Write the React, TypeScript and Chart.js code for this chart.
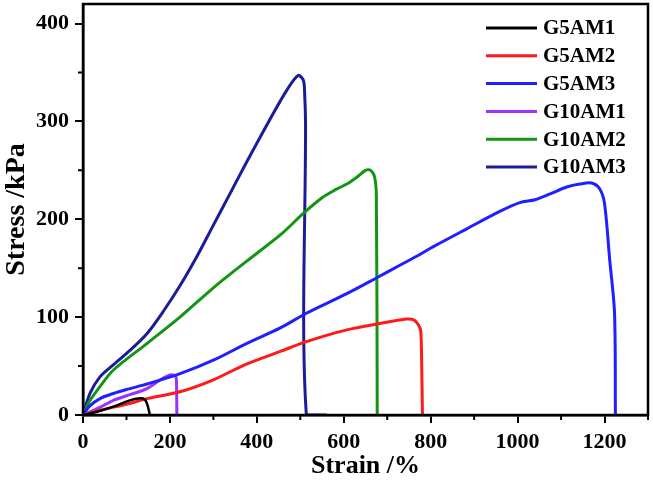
import { useEffect, useRef } from "react";
import { Chart, registerables } from "chart.js";

Chart.register(...registerables);

const seriesNames = ["G5AM1", "G5AM2", "G5AM3", "G10AM1", "G10AM2", "G10AM3"];
const seriesColors = ["#000000", "#ff1a1a", "#1f1fff", "#9b30ff", "#129612", "#1c1c9a"];

const g5am1Strain = [0, 30, 70, 108, 132, 140, 147, 154];
const g5am1Stress = [0, 3, 8.5, 15, 17, 16.5, 12, 0];

const g5am2Strain = [0, 40, 100, 150, 225, 300, 376, 454, 514, 607, 683, 744, 762, 772, 777, 779, 781];
const g5am2Stress = [0, 5, 11, 17, 24, 36, 52, 65, 75, 87, 93.5, 98, 97, 92, 86, 60, 0];

const g5am3Strain = [0, 15, 40, 70, 100, 150, 225, 300, 376, 454, 514, 607, 675, 729, 775, 806, 882, 959, 1005, 1040, 1075, 1113, 1143, 1170, 1189, 1200, 1212, 1223, 1225];
const g5am3Stress = [0, 9, 17, 22, 26, 32, 42.5, 56, 73, 89, 104, 124, 140, 153, 164, 172, 190, 208, 217, 220, 226, 233, 236, 237, 231, 216, 158, 104, 0];

const g10am1Strain = [0, 40, 70, 110, 147, 178, 200, 207, 213, 215, 216];
const g10am1Stress = [0, 8, 15, 21, 27, 36, 41, 41, 40, 35, 0];

const g10am2Strain = [0, 15, 39, 70, 147, 223, 300, 376, 454, 507, 550, 580, 607, 630, 650, 662, 671, 675, 677];
const g10am2Stress = [0, 14, 29, 46, 73, 100, 130, 157, 184, 206, 222, 230, 236, 243, 250, 250, 243, 224, 0];

const g10am3Strain = [0, 16, 39, 69, 108, 147, 185, 223, 262, 300, 338, 376, 430, 469, 495, 507, 510, 512, 514, 560];
const g10am3Stress = [0, 22, 39, 51, 66, 83, 106, 132, 162, 194, 226, 258, 302, 332, 347, 342, 328, 300, 0, 0];

const strainSeries = [g5am1Strain, g5am2Strain, g5am3Strain, g10am1Strain, g10am2Strain, g10am3Strain];
const stressSeries = [g5am1Stress, g5am2Stress, g5am3Stress, g10am1Stress, g10am2Stress, g10am3Stress];

const xMinorTicks = [100, 300, 500, 700, 900, 1100, 1300];
const yMinorTicks = [50, 150, 250, 350];

const FONT = '"Liberation Serif", "Times New Roman", serif';

const framePlugin = {
  id: "frame",
  afterDraw(chart: any) {
    const { ctx, chartArea: a, scales } = chart;
    ctx.save();
    ctx.strokeStyle = "#000";
    ctx.lineWidth = 2.5;
    ctx.strokeRect(a.left, a.top, a.right - a.left, a.bottom - a.top);
    ctx.lineWidth = 2;
    ctx.beginPath();
    for (const v of xMinorTicks) {
      const px = scales.x.getPixelForValue(v);
      ctx.moveTo(px, a.bottom);
      ctx.lineTo(px, a.bottom + 5);
    }
    for (const v of yMinorTicks) {
      const py = scales.y.getPixelForValue(v);
      ctx.moveTo(a.left - 5, py);
      ctx.lineTo(a.left, py);
    }
    ctx.stroke();

    // legend
    const x0 = a.right - 162;
    ctx.font = `bold 21px ${FONT}`;
    ctx.textBaseline = "middle";
    ctx.textAlign = "left";
    chart.data.datasets.forEach((ds: any, i: number) => {
      const y = a.top + 24 + i * 27.8;
      ctx.strokeStyle = ds.borderColor;
      ctx.lineWidth = 3;
      ctx.beginPath();
      ctx.moveTo(x0, y);
      ctx.lineTo(x0 + 51, y);
      ctx.stroke();
      ctx.fillStyle = "#000";
      ctx.fillText(ds.label, x0 + 57, y + 1);
    });
    ctx.restore();
  },
};

export default function App() {
  const ref = useRef<HTMLCanvasElement>(null);

  useEffect(() => {
    if (!ref.current) return;
    const datasets = seriesNames.map((name, i) => ({
      label: name,
      data: strainSeries[i].map((x, j) => ({ x, y: stressSeries[i][j] })),
      borderColor: seriesColors[i],
      backgroundColor: seriesColors[i],
      borderWidth: i === 0 ? 2.5 : 3,
      pointRadius: 0,
      tension: 0.3,
      fill: false,
      showLine: true,
    }));

    const chart = new Chart(ref.current, {
      type: "scatter",
      data: { datasets },
      plugins: [framePlugin],
      options: {
        animation: false,
        responsive: false,
        devicePixelRatio: 1,
        layout: { padding: { top: 4, right: 5, left: 0, bottom: 0 } },
        plugins: { legend: { display: false }, tooltip: { enabled: false } },
        scales: {
          x: {
            type: "linear",
            min: 0,
            max: 1300,
            bounds: "data",
            afterFit: (s: any) => {
              s.height = 67;
              s.paddingLeft = 0;
              s.paddingRight = 0;
            },
            ticks: {
              stepSize: 100,
              autoSkip: false,
              maxRotation: 0,
              includeBounds: false,
              padding: 6,
              color: "#000",
              font: { family: FONT, size: 22, weight: "bold" },
              callback: (v: any) => (Number(v) % 200 === 0 && Number(v) <= 1200 ? String(v) : ""),
            },
            grid: {
              display: true,
              drawOnChartArea: false,
              drawTicks: true,
              tickLength: 8,
              lineWidth: 2,
              color: (c: any) => (c.tick && c.tick.value % 200 === 0 ? "#000" : "rgba(0,0,0,0)"),
            },
            border: { display: true, color: "#000", width: 2.5 },
            title: {
              display: true,
              text: "Strain /%",
              color: "#000",
              font: { family: FONT, size: 26, weight: "bold" },
              padding: { top: 0, bottom: 0 },
            },
          },
          y: {
            type: "linear",
            min: 0,
            max: 420,
            bounds: "data",
            afterFit: (s: any) => {
              s.width = 83;
              s.paddingTop = 0;
              s.paddingBottom = 0;
            },
            ticks: {
              stepSize: 50,
              autoSkip: false,
              includeBounds: false,
              padding: 6,
              color: "#000",
              font: { family: FONT, size: 22, weight: "bold" },
              callback: (v: any) => (Number(v) % 100 === 0 ? String(v) : ""),
            },
            grid: {
              display: true,
              drawOnChartArea: false,
              drawTicks: true,
              tickLength: 8,
              lineWidth: 2,
              color: (c: any) => (c.tick && c.tick.value % 100 === 0 ? "#000" : "rgba(0,0,0,0)"),
            },
            border: { display: true, color: "#000", width: 2.5 },
            title: {
              display: true,
              text: "Stress /kPa",
              color: "#000",
              font: { family: FONT, size: 28, weight: "bold" },
              padding: { top: 0, bottom: 0 },
            },
          },
        },
      } as any,
    });
    return () => chart.destroy();
  }, []);

  return (
    <div style={{ position: "absolute", left: 0, top: 0, width: 653, height: 482, background: "#fff" }}>
      <canvas ref={ref} width={653} height={482} style={{ display: "block" }} />
    </div>
  );
}
